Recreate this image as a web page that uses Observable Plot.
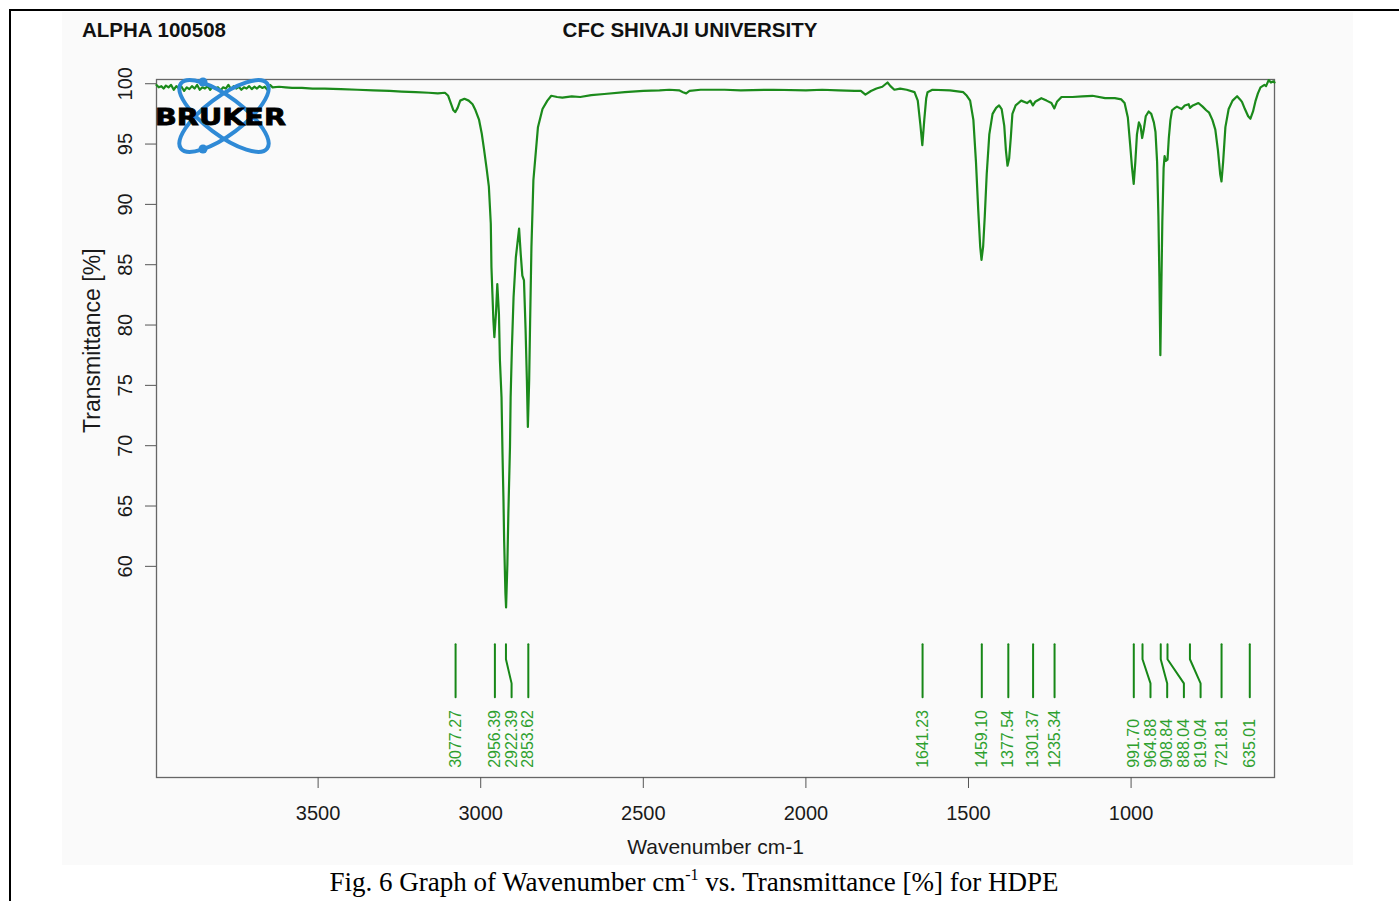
<!DOCTYPE html>
<html>
<head>
<meta charset="utf-8">
<script src="https://cdn.jsdelivr.net/npm/d3@7"></script>
<script src="https://cdn.jsdelivr.net/npm/@observablehq/plot@0.6"></script>
<style>
  body { margin: 0; background: #ffffff; }
  #wrap { position: relative; width: 1399px; height: 901px; overflow: hidden; font-family: "Liberation Sans", Arial, sans-serif; }
  #bg { position: absolute; left: 62px; top: 12px; width: 1291px; height: 853px; background: #fafafa; }
  #bt { position: absolute; left: 9px; top: 9px; width: 1390px; height: 2px; background: #000; }
  #bl { position: absolute; left: 9px; top: 9px; width: 2px; height: 892px; background: #000; }
  #chart { position: absolute; left: 0; top: 0; }
  #over { position: absolute; left: 0; top: 0; pointer-events: none; }
</style>
</head>
<body>
<div id="wrap">
  <div id="bg"></div>
  <div id="bt"></div>
  <div id="bl"></div>
  <div id="chart"></div>
  <svg id="over" width="1399" height="901">
    <text x="82" y="37" font-family="Liberation Sans, Arial, sans-serif" font-weight="bold" font-size="20.5" fill="#111">ALPHA 100508</text>
    <text x="690" y="37" text-anchor="middle" font-family="Liberation Sans, Arial, sans-serif" font-weight="bold" font-size="20.5" fill="#111">CFC SHIVAJI UNIVERSITY</text>
    <g transform="translate(224,116)" fill="none" stroke="#2f8ad6" stroke-width="4">
      <ellipse rx="54" ry="19" transform="rotate(37)"></ellipse>
      <ellipse rx="54" ry="19" transform="rotate(-37)"></ellipse>
    </g>
    <circle cx="203" cy="82" r="4.5" fill="#2f8ad6"></circle>
    <circle cx="203" cy="149" r="4.5" fill="#2f8ad6"></circle>
    <text x="155" y="125" font-family="DejaVu Sans, sans-serif" font-weight="bold" font-size="23" textLength="131" lengthAdjust="spacingAndGlyphs" fill="#000" stroke="#000" stroke-width="0.8">BRUKER</text>
    <text x="694" y="891" text-anchor="middle" font-family="Liberation Serif, Times New Roman, serif" font-size="27" fill="#000">Fig. 6 Graph of Wavenumber cm<tspan font-size="16" dy="-11">-1</tspan><tspan dy="11"> vs. Transmittance [%] for HDPE</tspan></text>
  </svg>
</div>
<script>
// ---------- data ----------
const wavenumber = [
  3997, 3990, 3982, 3975, 3968, 3960, 3952, 3944, 3936, 3928, 3920, 3912, 3904, 3896, 3888, 3880,
  3872, 3864, 3856, 3848, 3840, 3832, 3824, 3816, 3808, 3800, 3792, 3784, 3776, 3768, 3760, 3752,
  3744, 3736, 3728, 3720, 3712, 3704, 3696, 3688, 3680, 3672, 3664, 3656, 3648, 3640, 3620, 3600,
  3580, 3550, 3517, 3480, 3430, 3379, 3330, 3280, 3243, 3200, 3160, 3132, 3110, 3100, 3092, 3084,
  3078, 3071, 3063, 3050, 3037, 3025, 3016, 3005, 2997, 2990, 2982, 2975, 2969, 2967, 2964, 2961,
  2958, 2953, 2949, 2944, 2941, 2936, 2933, 2930, 2928, 2924, 2922, 2918, 2915, 2910, 2908, 2904,
  2899, 2892, 2882, 2877, 2872, 2867, 2862, 2858, 2855, 2851, 2848, 2844, 2838, 2824, 2810, 2795,
  2783, 2765, 2749, 2720, 2694, 2660, 2620, 2557, 2500, 2450, 2420, 2390, 2378, 2368, 2358, 2324,
  2250, 2200, 2100, 2000, 1950, 1900, 1850, 1831, 1817, 1800, 1783, 1765, 1749, 1740, 1728, 1710,
  1690, 1666, 1656, 1648, 1642, 1636, 1630, 1626, 1611, 1557, 1516, 1505, 1495, 1485, 1477, 1470,
  1464, 1460, 1455, 1450, 1444, 1436, 1426, 1415, 1406, 1398, 1390, 1385, 1380, 1375, 1370, 1365,
  1355, 1338, 1320, 1310, 1302, 1295, 1276, 1260, 1245, 1236, 1228, 1214, 1180, 1150, 1119, 1080,
  1050, 1030, 1020, 1010, 1003, 997, 992, 987, 982, 976, 971, 966, 961, 955, 946, 938,
  930, 925, 920, 916, 913, 910, 907, 904, 900, 897, 893, 888, 884, 879, 874, 865,
  859, 845, 835, 823, 819, 810, 793, 780, 769, 760, 750, 741, 733, 726, 722, 717,
  710, 700, 688, 674, 665, 659, 650, 640, 633, 625, 617, 610, 602, 590, 585, 577,
  570, 562, 559
];
const transmittance = [
  99.9, 99.7, 99.8, 99.6, 99.85, 99.7, 99.9, 99.5, 99.8, 99.6, 99.75, 99.4, 99.7, 99.55, 99.8, 99.6,
  99.9, 99.5, 99.7, 99.6, 99.8, 99.5, 99.75, 99.6, 99.7, 99.45, 99.7, 99.6, 99.9, 99.55, 99.8, 99.6,
  99.75, 99.5, 99.7, 99.6, 99.8, 99.55, 99.75, 99.6, 99.8, 99.65, 99.75, 99.5, 99.9, 99.7, 99.75, 99.7,
  99.65, 99.65, 99.6, 99.6, 99.55, 99.5, 99.45, 99.4, 99.35, 99.3, 99.25, 99.2, 99.25, 99.0, 98.4, 97.8,
  97.65, 98.0, 98.6, 98.75, 98.6, 98.3, 97.8, 97.0, 95.9, 94.6, 93.0, 91.5, 88.4, 84.8, 82.6, 80.4,
  79.0, 81.0, 83.4, 80.95, 77.1, 74.0, 69.35, 65.5, 62.2, 57.75, 56.6, 60.2, 64.4, 69.9, 74.0, 78.2,
  82.3, 85.6, 88.0, 85.9, 84.1, 83.7, 79.6, 75.4, 71.55, 75.4, 80.4, 86.5, 92.0, 96.4, 97.9, 98.6,
  99.0, 98.9, 98.85, 98.95, 98.9, 99.05, 99.15, 99.3, 99.4, 99.45, 99.5, 99.45, 99.3, 99.2, 99.4, 99.5,
  99.5, 99.45, 99.5, 99.45, 99.5, 99.45, 99.4, 99.4, 99.1, 99.4, 99.6, 99.75, 100.1, 99.8, 99.5, 99.6,
  99.5, 99.3, 98.6, 96.6, 94.9, 97.0, 98.8, 99.3, 99.5, 99.45, 99.3, 99.0, 98.6, 97.0, 93.5, 89.5,
  86.5, 85.4, 86.5, 89.0, 92.5, 95.8, 97.5, 98.0, 98.2, 97.9, 96.5, 94.5, 93.2, 93.8, 95.5, 97.5,
  98.2, 98.6, 98.4, 98.6, 98.2, 98.5, 98.8, 98.6, 98.4, 97.95, 98.5, 98.9, 98.9, 98.95, 99.0, 98.8,
  98.8, 98.7, 98.4, 97.2, 95.0, 93.0, 91.7, 93.5, 95.8, 96.8, 96.5, 95.5, 96.2, 97.3, 97.7, 97.5,
  96.8, 96.0, 93.5, 89.0, 84.0, 77.5, 83.0, 88.5, 93.0, 94.0, 93.6, 93.7, 95.5, 97.0, 97.8, 98.0,
  98.1, 97.9, 98.2, 98.3, 98.0, 98.2, 98.4, 98.1, 97.8, 97.6, 97.0, 96.2, 94.5, 92.5, 91.9, 93.5,
  96.4, 97.9, 98.6, 98.96, 98.7, 98.5, 97.9, 97.3, 97.1, 97.7, 98.6, 99.2, 99.7, 99.9, 99.8, 100.3,
  100.1, 100.2, 100.1
];
const peakWavenumbers = [3077.27, 2956.39, 2922.39, 2853.62, 1641.23, 1459.10, 1377.54, 1301.37,
  1235.34, 991.70, 964.88, 908.84, 888.04, 819.04, 721.81, 635.01];
const xTicks = [3500, 3000, 2500, 2000, 1500, 1000];
const yTicks = [60, 65, 70, 75, 80, 85, 90, 95, 100];

// ---------- layout ----------
const W = 1399, H = 870;
const mL = 156, mR = 125, mT = 79, mB = 93;
const xDomain = [3997, 559];
const yDomain = [42.5, 100.35];

const spectrum = wavenumber.map((w, i) => ({wn: w, t: transmittance[i]}));

// spread crowded peak labels (greedy, left to right) with a minimum pixel gap
const pxPerWn = (W - mL - mR) / (xDomain[0] - xDomain[1]);
const minGapWn = 16.7 / pxPerWn;
const labelX = [];
peakWavenumbers.forEach((w, i) => labelX.push(i === 0 ? w : Math.min(w, labelX[i - 1] - minGapWn)));
const peaks = peakWavenumbers.map((w, i) => ({wn: w, lx: labelX[i], label: w.toFixed(2)}));

const lev = {top: 53.55, k1: 52.3, k2: 50.3, bot: 49.15, text: 43.3};
const connectors = peaks.flatMap((p, i) => [
  {id: i, x: p.wn, y: lev.top}, {id: i, x: p.wn, y: lev.k1},
  {id: i, x: p.lx, y: lev.k2}, {id: i, x: p.lx, y: lev.bot}
]);

const chart = Plot.plot({
  width: W, height: H,
  marginLeft: mL, marginRight: mR, marginTop: mT, marginBottom: mB,
  style: {fontFamily: "Liberation Sans, Arial, sans-serif", background: "transparent", overflow: "visible"},
  x: {domain: xDomain},
  y: {domain: yDomain},
  marks: [
    Plot.frame({stroke: "#666", strokeWidth: 1.3}),
    Plot.line(spectrum, {x: "wn", y: "t", stroke: "#1b8a1b", strokeWidth: 2.2}),
    Plot.line(connectors, {x: "x", y: "y", z: "id", stroke: "#178717", strokeWidth: 2}),
    Plot.text(peaks, {x: "lx", y: () => lev.text, text: "label", rotate: -90, textAnchor: "start",
      fill: "#2ea02e", fontSize: 16}),
    Plot.axisX(xTicks, {tickSize: 11, tickPadding: 17, fontSize: 20, label: null, tickFormat: d => String(d),
      stroke: "#555", fill: "#1a1a1a"}),
    Plot.axisY(yTicks, {tickSize: 11, tickPadding: 14, tickRotate: -90, fontSize: 20, label: null,
      tickFormat: d => String(d), stroke: "#555", fill: "#1a1a1a"}),
    Plot.text(["Wavenumber cm-1"], {frameAnchor: "bottom", dy: 70, lineAnchor: "middle", text: d => d,
      fontSize: 21, fill: "#1a1a1a"}),
    Plot.text(["Transmittance [%]"], {frameAnchor: "left", y: () => 78.7, dx: -64, rotate: -90,
      textAnchor: "middle", lineAnchor: "middle", text: d => d, fontSize: 23, fill: "#1a1a1a"})
  ]
});
document.getElementById("chart").appendChild(chart);
</script>
</body>
</html>
